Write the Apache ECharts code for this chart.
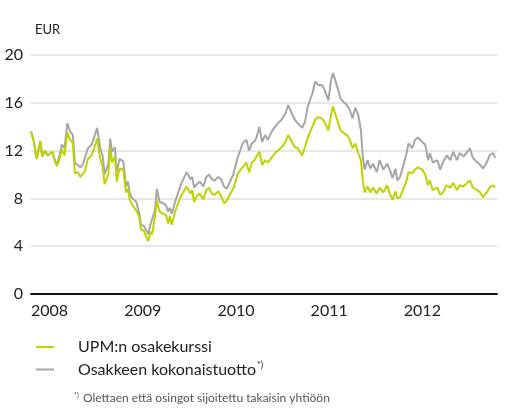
<!DOCTYPE html>
<html lang="fi">
<head>
    <meta charset="UTF-8">
    <title>UPM osakekurssi</title>
</head>
<style>
    * {
        margin: 0;
        padding: 0;
    }

    html, body {
        height: 100%;
        background: #fff;
    }

    #chart {
        width: 515px;
        height: 409px;
    }
</style>
<script src="https://cdn.jsdelivr.net/npm/echarts@6/dist/echarts.min.js"></script>
<body>
<div id="chart"></div>
</body>
<script>
  // x positions as decimal years
  const years = [
    2008.00, 2008.03, 2008.06, 2008.10, 2008.12, 2008.15, 2008.18, 2008.23, 2008.26, 2008.28,
    2008.31, 2008.33, 2008.36, 2008.39, 2008.42, 2008.45, 2008.47, 2008.50, 2008.53, 2008.56,
    2008.58, 2008.61, 2008.65, 2008.69, 2008.71, 2008.74, 2008.77, 2008.79, 2008.83, 2008.85,
    2008.87, 2008.90, 2008.92, 2008.95, 2008.99, 2009.02, 2009.04, 2009.06, 2009.09, 2009.13,
    2009.16, 2009.18, 2009.21, 2009.23, 2009.26, 2009.28, 2009.30, 2009.33, 2009.35, 2009.38,
    2009.42, 2009.45, 2009.47, 2009.49, 2009.51, 2009.55, 2009.58, 2009.61, 2009.64, 2009.67,
    2009.71, 2009.73, 2009.75, 2009.78, 2009.81, 2009.85, 2009.88, 2009.91, 2009.94, 2009.97,
    2010.01, 2010.04, 2010.07, 2010.10, 2010.14, 2010.17, 2010.19, 2010.22, 2010.25, 2010.27,
    2010.31, 2010.34, 2010.37, 2010.40, 2010.42, 2010.45, 2010.48, 2010.51, 2010.54, 2010.59,
    2010.62, 2010.65, 2010.69, 2010.73, 2010.76, 2010.80, 2010.83, 2010.86, 2010.91, 2010.94,
    2010.97, 2011.02, 2011.05, 2011.08, 2011.12, 2011.15, 2011.19, 2011.22, 2011.24, 2011.28,
    2011.32, 2011.35, 2011.39, 2011.42, 2011.45, 2011.48, 2011.51, 2011.54, 2011.56, 2011.58,
    2011.61, 2011.64, 2011.67, 2011.71, 2011.74, 2011.78, 2011.82, 2011.85, 2011.88, 2011.91,
    2011.93, 2011.96, 2011.99, 2012.03, 2012.05, 2012.09, 2012.12, 2012.15, 2012.20, 2012.23,
    2012.26, 2012.28, 2012.31, 2012.36, 2012.39, 2012.42, 2012.46, 2012.50, 2012.53, 2012.57,
    2012.60, 2012.64, 2012.68, 2012.71, 2012.74, 2012.79, 2012.82, 2012.85, 2012.89, 2012.92,
    2012.96, 2012.98
  ]

  // UPM:n osakekurssi (EUR)
  const sharePrice = [
    13.6, 12.8, 11.3, 12.8, 11.5, 12.0, 11.6, 11.9, 11.0, 10.7,
    11.4, 12.1, 11.6, 13.5, 12.9, 12.6, 10.1, 10.2, 9.8, 10.1,
    10.3, 11.3, 11.6, 12.5, 13.0, 11.4, 10.6, 9.2, 10.0, 12.3,
    11.0, 11.5, 9.4, 10.5, 10.4, 8.5, 8.8, 7.9, 7.4, 7.0,
    6.5, 5.4, 5.3, 4.9, 4.4, 5.2, 5.0, 6.5, 7.8, 6.9,
    6.7, 6.6, 5.9, 6.5, 5.8, 7.0, 7.6, 8.2, 8.6, 9.0,
    8.4, 8.7, 7.7, 8.2, 8.4, 7.9, 8.7, 8.9, 8.4, 8.3,
    8.6, 8.2, 7.6, 7.8, 8.4, 8.8, 9.3, 10.1, 10.4, 10.6,
    11.0, 10.2, 11.0, 11.2, 11.5, 11.9, 10.8, 11.2, 11.0, 11.5,
    11.8, 12.0, 12.3, 12.7, 13.3, 12.7, 12.3, 12.2, 11.6, 12.3,
    13.1, 14.0, 14.6, 14.8, 14.7, 14.4, 13.7, 15.0, 15.7, 14.7,
    13.7, 13.5, 13.3, 12.9, 12.2, 12.6, 11.8, 11.2, 9.5, 8.5,
    9.0, 8.5, 8.9, 8.4, 8.9, 8.5, 9.1, 8.4, 7.9, 8.6,
    8.0, 8.1, 8.7, 9.5, 10.2, 10.1, 10.4, 10.6, 10.4, 10.0,
    9.1, 9.5, 8.7, 8.9, 8.3, 8.5, 9.1, 8.9, 9.3, 8.7,
    9.1, 9.0, 9.3, 9.5, 8.9, 8.7, 8.5, 8.1, 8.5, 8.9,
    9.1, 8.9
  ]

  // Osakkeen kokonaistuotto (EUR)
  const totalReturn = [
    13.6, 12.8, 11.3, 12.8, 11.5, 12.0, 11.6, 11.9, 11.1, 10.9,
    11.7, 12.5, 12.2, 14.3, 13.6, 13.3, 11.0, 10.8, 10.6, 10.9,
    11.0, 12.2, 12.5, 13.4, 13.9, 12.3, 11.5, 10.0, 10.9, 13.0,
    11.9, 12.3, 10.2, 11.3, 11.1, 9.0, 9.4, 8.4, 8.0, 7.7,
    6.8, 5.8, 5.7, 5.6, 5.0, 5.8, 5.7, 7.0, 8.8, 7.7,
    7.6, 7.4, 6.9, 7.2, 6.7, 7.8, 8.5, 9.2, 9.7, 10.2,
    9.6, 9.8, 8.9, 9.2, 9.4, 9.0, 9.8, 10.0, 9.6, 9.5,
    9.8, 9.6, 9.0, 8.8, 9.5, 10.0, 10.6, 11.5, 12.1, 12.6,
    12.9, 12.0, 12.6, 12.8, 13.1, 14.0, 12.7, 13.3, 12.9, 13.7,
    14.0, 14.3, 14.6, 15.1, 15.8, 15.1, 14.6, 14.3, 13.9, 14.4,
    15.7, 16.8, 17.8, 17.5, 17.5, 17.1, 16.2, 17.9, 18.5, 17.5,
    16.4, 16.1, 15.8, 15.4, 14.7, 15.6, 15.0, 13.7, 11.5, 10.4,
    11.2, 10.5, 10.9, 10.2, 11.2, 10.4, 10.9, 10.4, 9.7, 10.5,
    9.5, 9.8, 10.6, 11.8, 12.6, 12.2, 12.9, 13.1, 12.7, 12.5,
    11.2, 11.8, 11.0, 11.2, 10.4, 11.0, 11.6, 11.2, 11.9, 11.2,
    11.8, 11.5, 11.9, 12.2, 11.4, 11.0, 10.8, 10.5, 11.0, 11.6,
    11.8, 11.4
  ]

  const yTicks = [0, 4, 8, 12, 16, 20]

  const seriesNames = ['UPM:n osakekurssi', 'Osakkeen kokonaistuotto']
  const GREEN = '#bfd200'
  const GRAY = '#a6a6a6'
  const FONT = 'Lato, "DejaVu Sans", sans-serif'

  const chart = echarts.init(document.getElementById('chart'), null, { renderer: 'canvas' })

  chart.setOption({
    animation: false,
    textStyle: { fontFamily: FONT },
    title: {
      text: 'EUR',
      left: 30,
      top: 18,
      textStyle: { fontSize: 13, fontWeight: 'normal', color: '#222', fontFamily: FONT }
    },
    grid: {
      left: 31,
      right: 18,
      top: 55,
      bottom: 115,
      containLabel: false
    },
    legend: {
      orient: 'vertical',
      left: 31,
      top: 334,
      itemGap: 6,
      itemWidth: 18,
      itemHeight: 2,
      icon: 'rect',
      data: seriesNames,
      textStyle: {
        fontSize: 16,
        color: '#222',
        fontFamily: FONT,
        padding: [0, 0, 0, 19],
        rich: {
          sup: { fontSize: 9, color: '#222', verticalAlign: 'top', padding: [0, 0, 8, 1], fontFamily: FONT }
        }
      },
      formatter: function (name) {
        return name === seriesNames[1] ? name + '{sup|*)}' : name
      }
    },
    xAxis: {
      type: 'value',
      min: 2008,
      max: 2013,
      interval: 1,
      axisLine: { show: true, lineStyle: { color: '#111', width: 2 } },
      axisTick: { show: false },
      splitLine: { show: false },
      axisLabel: {
        fontSize: 16,
        color: '#222',
        margin: 9,
        align: 'left',
        showMaxLabel: false,
        formatter: v => String(v)
      }
    },
    yAxis: {
      type: 'value',
      min: yTicks[0],
      max: yTicks[yTicks.length - 1],
      interval: 4,
      axisLine: { show: false },
      axisTick: { show: false },
      splitLine: { show: true, lineStyle: { color: '#e6e6e6', width: 2 } },
      axisLabel: {
        fontSize: 16,
        color: '#222',
        margin: 8
      }
    },
    series: [
      {
        name: seriesNames[1],
        type: 'line',
        symbol: 'none',
        z: 2,
        color: GRAY,
        lineStyle: { width: 2, color: GRAY },
        data: years.map((y, i) => [y, totalReturn[i]])
      },
      {
        name: seriesNames[0],
        type: 'line',
        symbol: 'none',
        z: 3,
        color: GREEN,
        lineStyle: { width: 2, color: GREEN },
        data: years.map((y, i) => [y, sharePrice[i]])
      }
    ],
    graphic: [
      {
        type: 'text',
        left: 74,
        top: 392,
        style: {
          text: '{sup|*)} Olettaen että osingot sijoitettu takaisin yhtiöön',
          fontSize: 12,
          fill: '#555',
          fontFamily: FONT,
          rich: {
            sup: { fontSize: 7, fill: '#555', verticalAlign: 'top', padding: [0, 1, 5, 0], fontFamily: FONT }
          }
        }
      }
    ]
  })
</script>
</html>
